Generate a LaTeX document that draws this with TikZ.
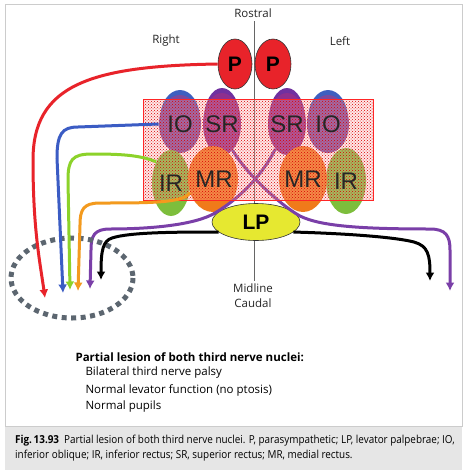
\documentclass[tikz,border=0pt]{standalone}
\usepackage{fontspec}
\setmainfont{Open Sans}
\newfontfamily\lblfont{Liberation Sans}
\usetikzlibrary{arrows.meta,patterns,shapes.geometric}
\definecolor{pred}{HTML}{E8232A}
\definecolor{iopurple}{HTML}{7A4A9E}
\definecolor{iocap}{HTML}{3E5FC0}
\definecolor{srpurple}{HTML}{8E2F8E}
\definecolor{srcap}{HTML}{7030A0}
\definecolor{irgreen}{HTML}{7DBE3C}
\definecolor{mrorange}{HTML}{F07A1A}
\definecolor{lpyellow}{HTML}{E6E830}
\definecolor{ablue}{HTML}{3B5CC4}
\definecolor{agreen}{HTML}{8CD22A}
\definecolor{aorange}{HTML}{F39A1E}
\definecolor{apurple}{HTML}{7A3FA8}
\definecolor{dashgray}{HTML}{5C6670}
\definecolor{capgray}{HTML}{E6E6E6}
\begin{document}
\begin{tikzpicture}[x=1pt,y=-1pt,
  nucleus/.style={ellipse, draw=black!80, line width=0.6pt, inner sep=0pt},
  nuctext/.style={font=\lblfont\fontsize{24}{24}\selectfont, text=black!85},
  ptext/.style={font=\lblfont\bfseries\fontsize{21}{21}\selectfont, text=black},
  fiber/.style={line width=3pt, -{Latex[length=8.5pt,width=9pt]}},
  small/.style={font=\fontsize{11.5}{13}\selectfont, text=black!85},
  captext/.style={anchor=west, font=\fontsize{11}{13}\selectfont, inner sep=0pt},
]
\useasboundingbox (0,0) rectangle (465,472);
% frame
\fill[white] (0,0) rectangle (465,472);
\fill[capgray] (5,426) rectangle (462,470);
\draw[black!20, line width=0.8pt] (5,4) rectangle (462,426);

% midline
\coordinate (mtop) at (254,21);
\coordinate (mbot) at (254,281);
\draw[black!60, line width=0.8pt] (mtop) -- (mbot);
\node[small] (rostral) at (253,13) {Rostral};
\node[small] (right) at (166,41) {Right};
\node[small] (left) at (340,41) {Left};
\node[small] (midline) at (253,288) {Midline};
\node[small] (caudal) at (253,303) {Caudal};

% P nuclei
\node[nucleus, fill=pred, minimum width=34pt, minimum height=50pt] (PR) at (235,64) {};
\node[nucleus, fill=pred, minimum width=36pt, minimum height=50pt] (PL) at (273,64) {};
\node[ptext] at (PR) {P};
\node[ptext] at (PL) {P};

% IO and SR with caps
\fill[iocap] (180,119) ellipse [x radius=20, y radius=29];
\fill[iocap] (328,119) ellipse [x radius=20, y radius=29];
\fill[srcap] (222,119) ellipse [x radius=18, y radius=31];
\fill[srcap] (287,119) ellipse [x radius=18, y radius=31];
\node[nucleus, draw=none, fill=iopurple, minimum width=42pt, minimum height=58pt] (IOR) at (180,124) {};
\node[nucleus, draw=none, fill=iopurple, minimum width=42pt, minimum height=58pt] (IOL) at (328,124) {};
\node[nucleus, draw=none, fill=srpurple, minimum width=38pt, minimum height=62pt] (SRR) at (222,124) {};
\node[nucleus, draw=none, fill=srpurple, minimum width=38pt, minimum height=62pt] (SRL) at (287,124) {};

% IR and MR
\node[nucleus, draw=none, fill=irgreen, minimum width=38pt, minimum height=66pt] (IRR) at (171,183) {};
\node[nucleus, draw=none, fill=irgreen, minimum width=40pt, minimum height=66pt] (IRL) at (346,181) {};
\node[nucleus, draw=none, fill=mrorange, minimum width=50pt, minimum height=66pt] (MRR) at (213,179) {};
\node[nucleus, draw=none, fill=mrorange, minimum width=48pt, minimum height=66pt] (MRL) at (303,179) {};

% LP
\node[nucleus, fill=lpyellow, minimum width=88pt, minimum height=37pt] (LP) at (256,222) {};

% crossing purple fibers
\draw[fiber, apurple] (SRL.245) .. controls (265,170) and (245,195) .. (215,213)
   .. controls (195,225) and (150,229) .. (110,229)
   .. controls (94,229) and (91,236) .. (91,250) -- (90,289);
\draw[fiber, apurple] (SRR.292) .. controls (245,172) and (280,205) .. (300,216)
   .. controls (320,226) and (360,229) .. (430,229)
   .. controls (446,229) and (450,236) .. (450,250) -- (450,291);

% hatched overlay
\fill[red!30, opacity=0.3] (143,99) rectangle (373,200);
\fill[pattern=crosshatch dots, pattern color=red!85!black] (143,99) rectangle (373,200);
\draw[red!85, line width=0.7pt] (143,99) rectangle (373,200);

% nucleus labels
\node[nuctext] at (IOR) {IO};
\node[nuctext] at (SRR) {SR};
\node[nuctext] at (SRL) {SR};
\node[nuctext] at (IOL) {IO};
\node[nuctext] at (IRR) {IR};
\node[nuctext] at ([xshift=1pt]MRR) {MR};
\node[nuctext] at (MRL) {MR};
\node[nuctext] at (IRL) {IR};
\node[ptext] at (LP) {LP};

% dashed ellipse
\draw[dashgray, line width=5pt, dash pattern=on 5pt off 4.5pt] (72,278) ellipse [x radius=61, y radius=40];

% other fibers
\draw[fiber, pred] (PR.west) .. controls (90,66) and (33,85) .. (33,160)
   .. controls (33,230) and (40,262) .. (45,298);
\draw[fiber, ablue] (IOR.west) -- (78,127) .. controls (62,127) and (57,134) .. (57,158)
   -- (63,293);
\draw[fiber, agreen] (IRR.125) .. controls (140,155) and (120,154) .. (92,154)
   .. controls (72,154) and (68,160) .. (68,180) -- (70,290);
\draw[fiber, aorange] (MRR.210) .. controls (185,203) and (150,203) .. (100,203)
   .. controls (83,203) and (80,210) .. (80,225) -- (78,291);
\draw[fiber, black] (LP.195) .. controls (180,232) and (130,232) .. (112,238)
   .. controls (103,241) and (101,250) .. (101,280);
\draw[fiber, black] (LP.345) .. controls (330,233) and (390,236) .. (414,242)
   .. controls (428,246) and (430,255) .. (430,281);

% text block
\node[anchor=west, font=\bfseries\fontsize{11.5}{14}\selectfont] (title) at (72,357) {Partial lesion of both third nerve nuclei:};
\node[anchor=west, font=\fontsize{11.5}{14}\selectfont] (l1) at (82,373) {Bilateral third nerve palsy};
\node[anchor=west, font=\fontsize{11.5}{14}\selectfont] (l2) at (82,390) {Normal levator function (no ptosis)};
\node[anchor=west, font=\fontsize{11.5}{14}\selectfont] (l3) at (82,407) {Normal pupils};

% caption
\node[captext] (cap1) at (15,441) {\scalebox{0.9}[1]{\textbf{Fig.\,13.93}\enspace Partial lesion of both third nerve nuclei. P, parasympathetic; LP, levator palpebrae; IO,}};
\node[captext] (cap2) at (15,456) {\scalebox{0.9}[1]{inferior oblique; IR, inferior rectus; SR, superior rectus; MR, medial rectus.}};
\end{tikzpicture}
\end{document}
